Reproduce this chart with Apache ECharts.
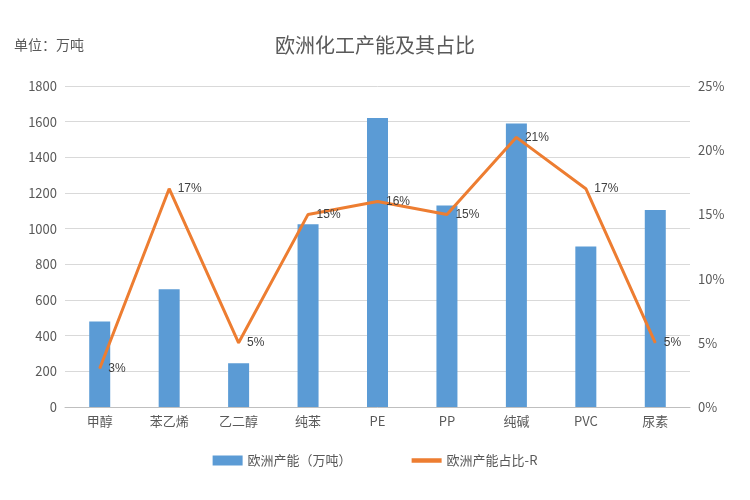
<!DOCTYPE html>
<html><head><meta charset="utf-8">
<script src="https://cdn.jsdelivr.net/npm/echarts@6/dist/echarts.min.js"></script>
</head><body style="margin:0">
<div id="c" style="width:750px;height:500px"></div>
<script>
const categories=['甲醇','苯乙烯','乙二醇','纯苯','PE','PP','纯碱','PVC','尿素'];
const capacity=[480,660,245,1025,1620,1130,1590,900,1105];
const share=[3,17,5,15,16,15,21,17,5];
const chart=echarts.init(document.getElementById('c'));
const txt={color:'#595959',fontFamily:'Noto Sans CJK SC',fontSize:13};
chart.setOption({
 backgroundColor:'#fff',
 title:{text:'欧洲化工产能及其占比',left:'center',top:30,textStyle:{color:'#595959',fontSize:20,fontWeight:'normal',fontFamily:'Noto Sans CJK SC'}},
 graphic:[{type:'text',left:14,top:38,style:{text:'单位：万吨',fill:'#595959',font:'14px "Noto Sans CJK SC"'}}],
 legend:{bottom:28,itemGap:60,textStyle:txt,data:[{name:'欧洲产能（万吨）',icon:'rect'},{name:'欧洲产能占比-R',icon:'path://M0,0H20V3H0Z'}],itemWidth:30,itemHeight:10},
 grid:{left:65,right:60,top:86,bottom:93},
 xAxis:{type:'category',data:categories,axisTick:{show:false},axisLine:{lineStyle:{color:'#bfbfbf'}},axisLabel:txt},
 yAxis:[{type:'value',min:0,max:1800,interval:200,axisLabel:Object.assign({formatter:v=>String(v)},txt),splitLine:{lineStyle:{color:'#d9d9d9'}},axisLine:{show:false}},
 {type:'value',min:0,max:25,interval:5,axisLabel:Object.assign({formatter:'{value}%'},txt),splitLine:{show:false},axisLine:{show:false}}],
 series:[{name:'欧洲产能（万吨）',type:'bar',data:capacity,barWidth:21,itemStyle:{color:'#5b9bd5'}},
 {name:'欧洲产能占比-R',type:'line',yAxisIndex:1,data:share,symbol:'circle',symbolSize:1,lineStyle:{color:'#ed7d31',width:3},itemStyle:{color:'#ed7d31'},
  label:{show:true,position:'right',distance:8,formatter:'{c}%',color:'#404040',fontSize:12}}]
});
</script></body></html>
